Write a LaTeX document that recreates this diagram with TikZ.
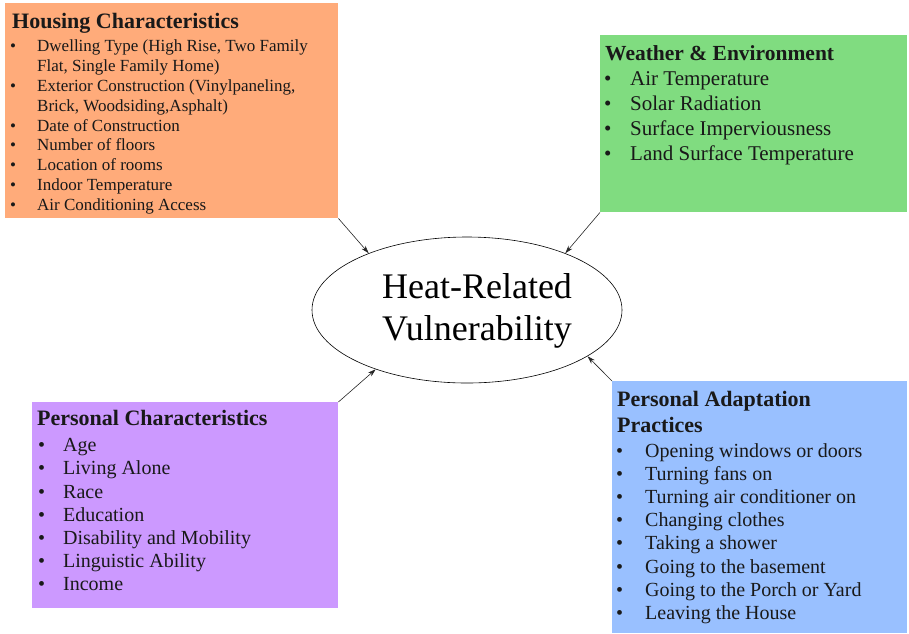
\documentclass[tikz,border=0pt]{standalone}
\usepackage{fontspec}
\setmainfont{Liberation Serif}
\usetikzlibrary{arrows.meta,shapes.geometric,positioning}
\definecolor{housefill}{RGB}{255,171,122}
\definecolor{weatherfill}{RGB}{128,220,128}
\definecolor{personfill}{RGB}{204,153,255}
\definecolor{adaptfill}{RGB}{153,192,255}
\newcommand{\housefont}{\fontsize{17}{20}\selectfont}
\newcommand{\weatherfont}{\fontsize{21}{25}\selectfont}
\newcommand{\listfont}{\fontsize{20}{23}\selectfont}

\begin{document}
\begin{tikzpicture}[x=1pt, y=-1pt,
  box/.style={draw=none, inner sep=0, anchor=north west},
  txt/.style={anchor=base west, inner sep=0, text=black!90},
  head/.style={txt, font=\bfseries\fontsize{22}{25}\selectfont},
  link/.style={-{Stealth[length=8pt,width=5pt]}, line width=0.6pt, black!85}]
\useasboundingbox (0,0) rectangle (909,633);

% coloured boxes
\node[box, fill=housefill, minimum width=333pt, minimum height=215pt] (house) at (5,3) {};
\node[box, fill=weatherfill, minimum width=307pt, minimum height=177pt] (weather) at (600,35) {};
\node[box, fill=personfill, minimum width=306pt, minimum height=206pt] (person) at (32,402) {};
\node[box, fill=adaptfill, minimum width=295pt, minimum height=252pt] (adapt) at (612,381) {};

% centre ellipse
\node[draw, ellipse, line width=0.6pt, minimum width=310pt, minimum height=146pt, inner sep=0] (hrv) at (467,310) {};
\node[align=center, font=\fontsize{36}{42}\selectfont] (hrvtext) at (477,311) {Heat-Related\\Vulnerability};

% housing
\node[head] (househead) at (12,28) {Housing Characteristics};
\foreach \t [count=\n] in {{Dwelling Type (High Rise, Two Family}, {Flat, Single Family Home)},
  {Exterior Construction (Vinylpaneling,}, {Brick, Woodsiding,Asphalt)}, Date of Construction,
  Number of floors, Location of rooms, Indoor Temperature, Air Conditioning Access}
  \node[txt, font=\housefont] (houseline\n) at (37, {31.5+19.9*\n}) {\t};
\foreach \n in {1,3,5,6,7,8,9}
  \node[txt, font=\housefont] (housedot\n) at (10, {31.5+19.9*\n}) {\textbullet};

% weather
\node[head, font=\bfseries\fontsize{21.5}{25}\selectfont] (weatherhead) at (605,60) {Weather \& Environment};
\foreach \t [count=\n] in {Air Temperature, Solar Radiation, Surface Imperviousness, Land Surface Temperature} {
  \node[txt, font=\weatherfont] (weatherline\n) at (630, {60.5+25*\n}) {\t};
  \node[txt, font=\weatherfont] (weatherdot\n) at (604, {60.5+25*\n}) {\textbullet};
}

% personal characteristics
\node[head] (personhead) at (37,425) {Personal Characteristics};
\foreach \t [count=\n] in {Age, Living Alone, Race, Education, Disability and Mobility, Linguistic Ability, Income} {
  \node[txt, font=\listfont] (personline\n) at (63, {428.5+23.2*\n}) {\t};
  \node[txt, font=\listfont] (persondot\n) at (38, {428.5+23.2*\n}) {\textbullet};
}

% adaptation practices
\node[head] (adapthead) at (617,406) {Personal Adaptation};
\node[head] (adapthead2) at (617,432) {Practices};
\foreach \t [count=\n] in {Opening windows or doors, Turning fans on, Turning air conditioner on,
  Changing clothes, Taking a shower, Going to the basement, Going to the Porch or Yard, Leaving the House} {
  \node[txt, font=\listfont] (adaptline\n) at (645, {433.8+23.2*\n}) {\t};
  \node[txt, font=\listfont] (adaptdot\n) at (616, {433.8+23.2*\n}) {\textbullet};
}

% arrows into the ellipse
\draw[link] (house.south east) -- (hrv.150);
\draw[link] (weather.south west) -- (hrv.30);
\draw[link] (person.north east) -- (hrv.213);
\draw[link] (adapt.north west) -- (hrv.339);
\end{tikzpicture}
\end{document}
